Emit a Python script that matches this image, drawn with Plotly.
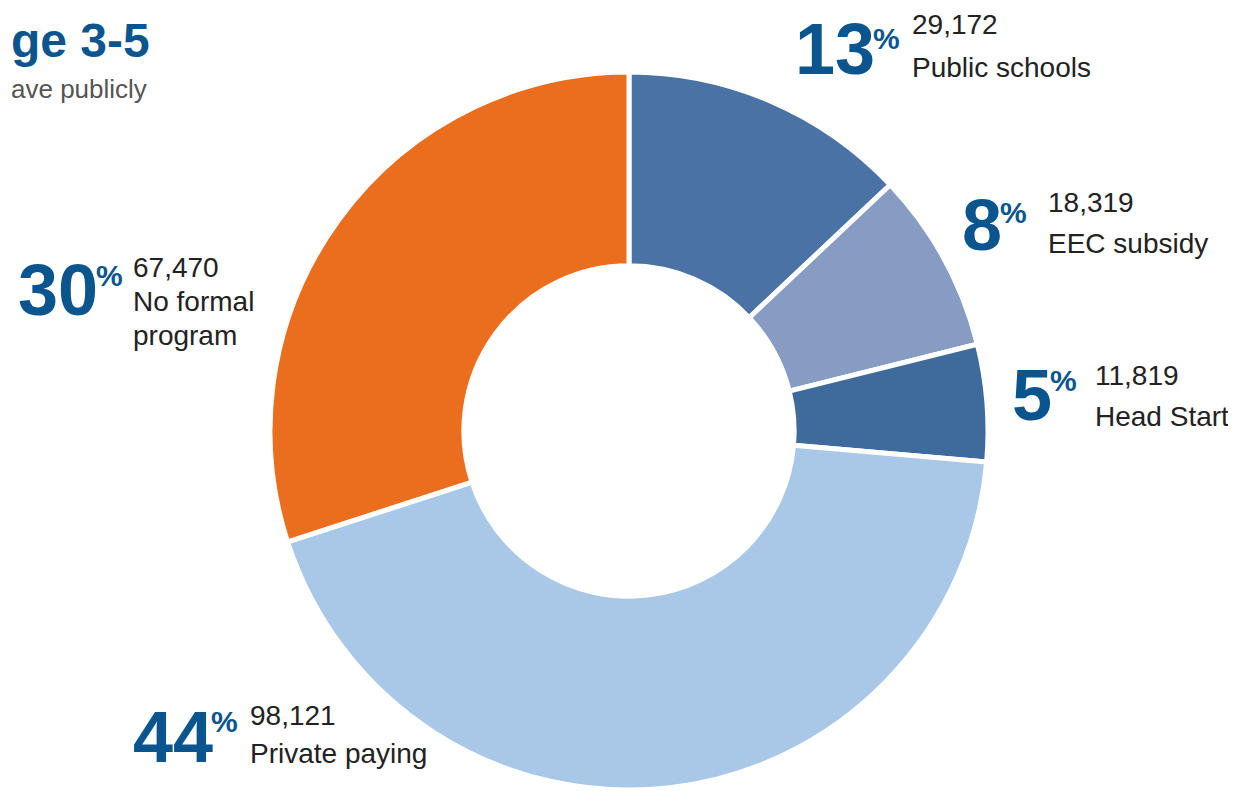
import plotly.graph_objects as go

labels = ["Public schools", "EEC subsidy", "Head Start", "Private paying", "No formal program"]
label_lines = [["Public schools"], ["EEC subsidy"], ["Head Start"], ["Private paying"], ["No formal", "program"]]
values = [29172, 18319, 11819, 98121, 67470]
colors = ["#4A72A4", "#869CC2", "#3E6A9C", "#A9C8E7", "#EB6E1F"]

W, H = 1236, 791
OFF = 8  # page body margin
total = sum(values)
percents = [round(v / total * 100) for v in values]


def px(x, y):
    return (x - OFF) / W, 1 - (y - OFF) / H


cx, cy, R = 629, 431, 359
fig = go.Figure(go.Pie(
    labels=labels, values=values, sort=False, direction="clockwise", rotation=0,
    hole=0.46, textinfo="none", hoverinfo="label+value+percent",
    marker=dict(colors=colors, line=dict(color="white", width=5)),
    domain=dict(x=[(cx - R - OFF) / W, (cx + R - OFF) / W],
                y=[(H - (cy - OFF) - R) / H, (H - (cy - OFF) + R) / H]),
    showlegend=False,
))

FONT = "Liberation Sans, Arial, sans-serif"
BLUE = "#0B558F"
BIG = 72
DIGIT_W = 0.556 * BIG

# (big-number left x, big-number center y, % center y, text left x, first line center y, line step)
label_pos = [
    (793, 49, 38, 910, 25, 43),
    (960, 225, 212, 1046, 202, 42),
    (1010, 395, 381, 1093, 375, 42),
    (131, 737, 721, 248, 715, 38),
    (16, 290, 276, 131, 267, 34),
]


def ann(x, y, text, size, color, xanchor="left", bold=False):
    ax, ay = px(x, y)
    fig.add_annotation(x=ax, y=ay, xref="paper", yref="paper", xanchor=xanchor, yanchor="middle",
                       text=f"<b>{text}</b>" if bold else text, showarrow=False,
                       font=dict(family=FONT, size=size, color=color))


for pct, val, lines, (bx, by, qy, tx, ty, step) in zip(percents, values, label_lines, label_pos):
    ann(bx, by, str(pct), BIG, BLUE, bold=True)
    ann(bx + len(str(pct)) * DIGIT_W - 2, qy, "%", 30, BLUE, bold=True)
    for i, line in enumerate([f"{val:,}"] + lines):
        ann(tx, ty + i * step, line, 28, "#222222")

# title and subtitle fragments (as visible in the reference)
ann(9, 41, "ge 3-5", 48, BLUE, bold=True)
ann(9, 89, "ave publicly", 26, "#555555")

fig.update_layout(width=W, height=H, margin=dict(l=0, r=0, t=0, b=0),
                  paper_bgcolor="white", plot_bgcolor="white")

fig.write_html("out.html")
